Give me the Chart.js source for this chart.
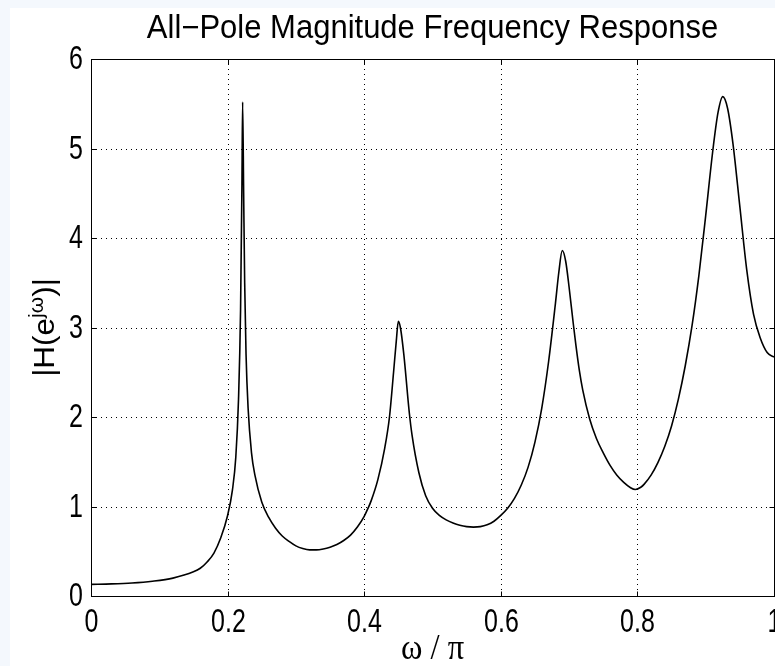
<!DOCTYPE html>
<html>
<head>
<meta charset="utf-8">
<script src="https://cdn.jsdelivr.net/npm/chart.js@4"></script>
<style>
html,body{margin:0;padding:0;width:775px;height:666px;overflow:hidden;background:#f4f8fd;}
#wrap{position:absolute;left:10px;top:8px;width:800px;height:658px;background:#ffffff;}
</style>
</head>
<body>
<div id="wrap"><canvas id="c" width="800" height="658"></canvas></div>
<script>
// Data
const omega = [0.00,0.03,0.06,0.09,0.12,0.15,0.16,0.17,0.18,0.19,0.20,0.207,0.212,0.216,0.219,0.221,0.222,0.2235,0.225,0.227,0.23,0.235,0.24,0.25,0.26,0.27,0.28,0.29,0.30,0.31,0.32,0.33,0.34,0.35,0.36,0.37,0.38,0.39,0.40,0.405,0.41,0.42,0.43,0.437,0.443,0.447,0.45,0.453,0.458,0.466,0.47,0.48,0.49,0.50,0.51,0.52,0.53,0.54,0.55,0.56,0.57,0.58,0.59,0.60,0.61,0.62,0.63,0.64,0.65,0.66,0.67,0.68,0.685,0.69,0.695,0.70,0.706,0.71,0.715,0.72,0.73,0.74,0.75,0.76,0.77,0.78,0.79,0.797,0.805,0.81,0.82,0.83,0.84,0.85,0.86,0.87,0.88,0.89,0.90,0.91,0.918,0.925,0.932,0.94,0.95,0.96,0.97,0.98,0.99,1.00];
const magnitude = [0.13,0.135,0.145,0.165,0.20,0.27,0.31,0.38,0.48,0.65,0.9,1.18,1.55,2.2,3.2,4.6,5.52,4.5,3.5,2.7,2.1,1.6,1.35,1.05,0.88,0.76,0.67,0.61,0.56,0.53,0.515,0.515,0.525,0.545,0.575,0.62,0.68,0.77,0.89,0.97,1.06,1.3,1.65,2.0,2.5,2.85,3.07,3.0,2.7,2.05,1.8,1.38,1.12,0.98,0.9,0.85,0.815,0.79,0.775,0.77,0.775,0.795,0.835,0.9,0.98,1.09,1.24,1.44,1.72,2.1,2.62,3.27,3.62,3.86,3.74,3.45,3.05,2.8,2.52,2.3,1.98,1.76,1.6,1.46,1.35,1.27,1.21,1.19,1.215,1.25,1.35,1.49,1.67,1.9,2.2,2.57,3.02,3.58,4.25,4.95,5.4,5.58,5.45,5.05,4.35,3.65,3.15,2.88,2.72,2.67];
const xTickLabels = ['0','0.2','0.4','0.6','0.8','1'];
const yTickLabels = ['0','1','2','3','4','5','6'];
const titleText = 'All\u2212Pole Magnitude Frequency Response';

const PL = 81, PR = 764, PT = 51, PB = 588;
const SANS = '"Liberation Sans", Arial, sans-serif';

function stretchText(ctx, text, x, y, font, sx, sy, align, base) {
  ctx.save();
  ctx.translate(x, y);
  ctx.scale(sx, sy);
  ctx.font = font;
  ctx.textAlign = align || 'center';
  ctx.textBaseline = base || 'middle';
  ctx.fillText(text, 0, 0);
  ctx.restore();
}

const frame = {
  id: 'frame',
  beforeDatasetsDraw(chart) {
    const {ctx, chartArea: a, scales: {x, y}} = chart;
    ctx.save();
    ctx.strokeStyle = '#000';
    ctx.lineWidth = 1;
    ctx.setLineDash([1, 4]);
    for (let i = 1; i < xTickLabels.length - 1; i++) {
      const px = Math.round(x.getPixelForValue(parseFloat(xTickLabels[i]))) + 0.5;
      ctx.beginPath(); ctx.moveTo(px, a.top); ctx.lineTo(px, a.bottom); ctx.stroke();
    }
    for (let i = 1; i < yTickLabels.length - 1; i++) {
      const py = Math.round(y.getPixelForValue(parseFloat(yTickLabels[i]))) + 0.5;
      ctx.beginPath(); ctx.moveTo(a.left, py); ctx.lineTo(a.right, py); ctx.stroke();
    }
    ctx.restore();
  },
  afterDraw(chart) {
    const {ctx, chartArea: a, scales: {x, y}} = chart;
    ctx.save();
    ctx.strokeStyle = '#000';
    ctx.lineWidth = 1;
    ctx.setLineDash([]);
    const L = Math.round(a.left) + 0.5, R = Math.round(a.right) + 0.5, T = Math.round(a.top) + 0.5, B = Math.round(a.bottom) + 0.5;
    ctx.strokeRect(L, T, R - L, B - T);
    const tl = 5;
    ctx.fillStyle = '#000';
    xTickLabels.forEach(t => {
      const px = Math.round(x.getPixelForValue(parseFloat(t))) + 0.5;
      ctx.beginPath(); ctx.moveTo(px, B); ctx.lineTo(px, B - tl); ctx.stroke();
      ctx.beginPath(); ctx.moveTo(px, T); ctx.lineTo(px, T + tl); ctx.stroke();
      stretchText(ctx, t, px, a.bottom + 27, '25px ' + SANS, 1, 1.3);
    });
    yTickLabels.forEach(t => {
      const py = Math.round(y.getPixelForValue(parseFloat(t))) + 0.5;
      ctx.beginPath(); ctx.moveTo(L, py); ctx.lineTo(L + tl, py); ctx.stroke();
      ctx.beginPath(); ctx.moveTo(R, py); ctx.lineTo(R - tl, py); ctx.stroke();
      stretchText(ctx, t, a.left - 8, py + 1, '25px ' + SANS, 1, 1.3, 'right');
    });
    // title
    stretchText(ctx, titleText, (a.left + a.right) / 2, 21, '31px ' + SANS, 1, 1.05);
    // x axis title
    stretchText(ctx, '\u03c9 / \u03c0', (a.left + a.right) / 2, 642, '31px "Liberation Serif", "Times New Roman", serif', 1.05, 1.15);
    // y axis title with superscript (rotated)
    ctx.translate(34, (a.top + a.bottom) / 2);
    ctx.rotate(-Math.PI / 2);
    ctx.scale(1.05, 1);
    const big = '30px ' + SANS;
    const small = '20px ' + SANS;
    const p1 = '|H(e', p2 = 'j\u03c9', p3 = ')|';
    ctx.font = big; const w1 = ctx.measureText(p1).width, w3 = ctx.measureText(p3).width;
    ctx.font = small; const w2 = ctx.measureText(p2).width;
    let sx = -(w1 + w2 + w3) / 2;
    ctx.textAlign = 'left';
    ctx.textBaseline = 'alphabetic';
    ctx.font = big; ctx.fillText(p1, sx, 10); sx += w1;
    ctx.font = small; ctx.fillText(p2, sx, -1); sx += w2;
    ctx.font = big; ctx.fillText(p3, sx, 10);
    ctx.restore();
  }
};

new Chart(document.getElementById('c'), {
  type: 'line',
  data: {
    datasets: [{
      data: omega.map((w, i) => ({x: w, y: magnitude[i]})),
      borderColor: '#000',
      borderWidth: 1.6,
      pointRadius: 0,
      cubicInterpolationMode: 'monotone',
      fill: false
    }]
  },
  options: {
    responsive: false,
    animation: false,
    events: [],
    layout: {padding: {top: PT, right: 800 - PR, left: 0, bottom: 0}},
    plugins: {legend: {display: false}, tooltip: {enabled: false}, title: {display: false}},
    scales: {
      x: {
        type: 'linear', min: 0, max: 1,
        afterFit(s) { s.height = 658 - PB; },
        afterBuildTicks(s) { s.ticks = xTickLabels.map(t => ({value: parseFloat(t)})); },
        grid: {display: false, drawTicks: false},
        border: {display: false},
        ticks: {display: false}
      },
      y: {
        type: 'linear', min: 0, max: 6,
        afterFit(s) { s.width = PL; },
        afterBuildTicks(s) { s.ticks = yTickLabels.map(t => ({value: parseFloat(t)})); },
        grid: {display: false, drawTicks: false},
        border: {display: false},
        ticks: {display: false}
      }
    }
  },
  plugins: [frame]
});
</script>
</body>
</html>
